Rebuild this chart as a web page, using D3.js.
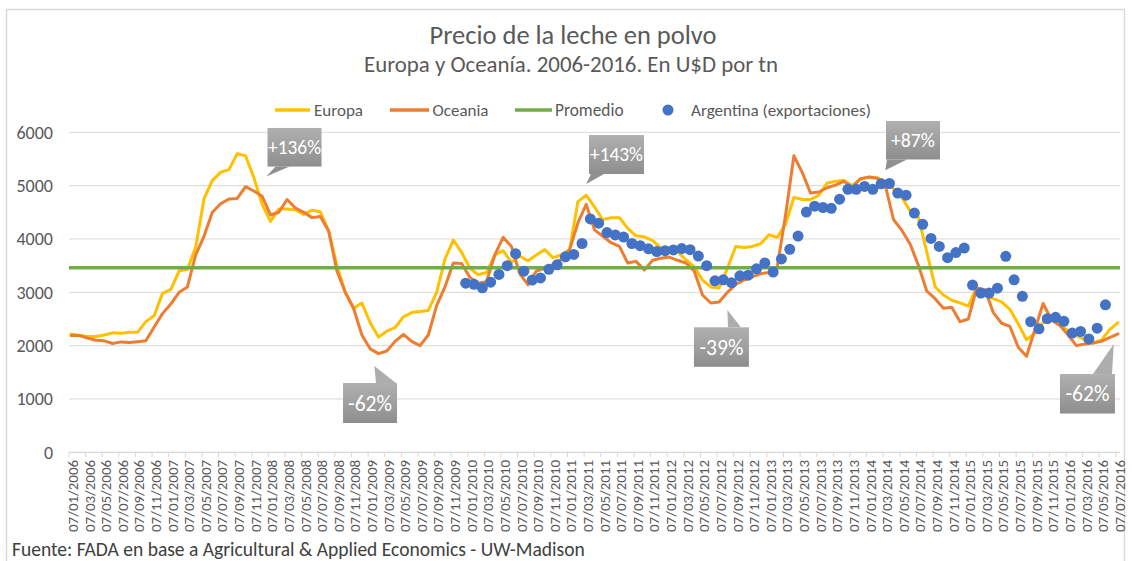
<!DOCTYPE html>
<html><head><meta charset="utf-8">
<script src="https://cdn.jsdelivr.net/npm/d3@7"></script>
<style>
body{margin:0;background:#fff}
svg{display:block}
text{font-family:Carlito, Calibri, Lato, "Open Sans", sans-serif}
</style>
</head><body>
<svg id="chart" width="1132" height="561"></svg>
<script>
// ---------------- DATA ----------------
const title = "Precio de la leche en polvo";
const subtitle = "Europa y Oceanía. 2006-2016. En U$D por tn";
const source = "Fuente: FADA en base a Agricultural & Applied Economics - UW-Madison";
const seriesNames = ["Europa", "Oceania", "Promedio", "Argentina (exportaciones)"];

const tickLabels = [
 "07/01/2006","07/03/2006","07/05/2006","07/07/2006","07/09/2006","07/11/2006",
 "07/01/2007","07/03/2007","07/05/2007","07/07/2007","07/09/2007","07/11/2007",
 "07/01/2008","07/03/2008","07/05/2008","07/07/2008","07/09/2008","07/11/2008",
 "07/01/2009","07/03/2009","07/05/2009","07/07/2009","07/09/2009","07/11/2009",
 "07/01/2010","07/03/2010","07/05/2010","07/07/2010","07/09/2010","07/11/2010",
 "07/01/2011","07/03/2011","07/05/2011","07/07/2011","07/09/2011","07/11/2011",
 "07/01/2012","07/03/2012","07/05/2012","07/07/2012","07/09/2012","07/11/2012",
 "07/01/2013","07/03/2013","07/05/2013","07/07/2013","07/09/2013","07/11/2013",
 "07/01/2014","07/03/2014","07/05/2014","07/07/2014","07/09/2014","07/11/2014",
 "07/01/2015","07/03/2015","07/05/2015","07/07/2015","07/09/2015","07/11/2015",
 "07/01/2016","07/03/2016","07/05/2016","07/07/2016"
];
const yTicks = [0, 1000, 2000, 3000, 4000, 5000, 6000];

// monthly values (7th of each month) from 07/01/2006 to 07/07/2016
const lineStart = "07/01/2006";
const europa = [
 2220,2190,2170,2170,2200,2240,2230,2250,2250,2450,
 2560,2980,3050,3400,3430,3850,4750,5100,5250,5300,
 5600,5560,5150,4650,4330,4560,4560,4550,4460,4540,
 4510,4150,3500,3000,2700,2800,2430,2160,2270,2340,
 2540,2620,2640,2660,3000,3620,3980,3750,3450,3330,
 3370,3700,3780,3560,3680,3590,3700,3800,3650,3700,
 3800,4700,4820,4600,4360,4400,4400,4200,4060,4040,
 3970,3830,3780,3760,3610,3480,3230,3100,3080,3450,
 3860,3840,3860,3910,4080,4030,4280,4780,4740,4740,
 4820,5050,5080,5100,5000,5120,5160,5150,5080,4940,
 4780,4520,4400,3750,3100,2950,2850,2800,2740,3100,
 2950,2880,2820,2680,2410,2110,2230,2430,2480,2390,
 2280,2190,2110,2050,2100,2300,2430
];
const oceania = [
 2190,2190,2140,2100,2090,2040,2070,2060,2075,2090,
 2350,2600,2780,3000,3100,3700,4050,4500,4660,4750,
 4760,4980,4900,4800,4450,4500,4740,4580,4500,4400,
 4420,4150,3400,3000,2700,2200,1940,1850,1900,2080,
 2210,2080,2000,2200,2750,3100,3550,3540,3280,3170,
 3200,3700,4030,3860,3350,3140,3400,3450,3520,3620,
 3800,4300,4650,4170,4050,3930,3860,3550,3580,3420,
 3600,3640,3660,3600,3550,3400,2950,2800,2820,3000,
 3150,3230,3290,3350,3370,3480,4450,5560,5250,4860,
 4880,4960,5010,5080,4970,5130,5160,5140,5000,4360,
 4160,3900,3500,3020,2880,2700,2720,2450,2500,3080,
 3050,2620,2420,2360,1970,1800,2300,2790,2480,2380,
 2200,2000,2030,2050,2080,2150,2220
];
const promedio = 3460;

// monthly export prices (21st of each month) from 21/12/2009 to 21/05/2016
const argentinaStart = "21/12/2009";
const argentina = [
 3170,3150,3085,3190,3335,3500,3725,3395,3230,3270,
 3430,3515,3665,3710,3915,4375,4295,4120,4075,4035,
 3915,3875,3815,3765,3780,3795,3820,3800,3680,3500,
 3215,3235,3180,3310,3320,3440,3550,3380,3625,3805,
 4055,4505,4615,4590,4575,4745,4930,4930,4985,4930,
 5035,5040,4860,4820,4485,4275,4010,3860,3650,3745,
 3830,3135,2985,2985,3078,3675,3235,2925,2450,2315,
 2505,2530,2455,2235,2265,2125,2328,2765
];

// callouts: label and the point (date, value) the tail points at
const calloutLabels = ["+136%", "-62%", "+143%", "-39%", "+87%", "-62%"];
const calloutDates  = ["21/12/2007", "21/01/2009", "07/03/2011", "07/08/2012", "07/03/2014", "21/06/2016"];
const calloutValues = [5170, 1620, 5030, 2670, 5290, 2030];

// ---------------- LAYOUT ----------------
const colors = {europa:"#FFC000", oceania:"#ED7D31", promedio:"#70AD47", argentina:"#4472C4",
                text:"#595959", grid:"#D9D9D9"};
// callout box geometry relative to tail tip: [dx, dy, w, h, tailStart, tailEnd]
const calloutBoxes = [
  [1.2, -48.6, 54, 38.6, 8, 22],
  [-31.3, 17.1, 54, 40, 33, 53],
  [2.8, -49, 55, 39, 2, 15],
  [-33.5, 17.4, 55, 39.5, 34, 47],
  [0.7, -49.2, 54, 38.5, 1, 21],
  [-53.8, 30, 55, 39.5, 33, 52]
];

const svg = d3.select("#chart");
const nCats = 253;
const x = d3.scaleLinear().domain([0, nCats]).range([69, 1120]);
const y = d3.scaleLinear().domain([0, 6000]).range([452.3, 132.3]);

function cat(s){ // dd/mm/yyyy -> semi-monthly category index
  const [d,m,yy] = s.split("/").map(Number);
  return (yy-2006)*24 + (m-1)*2 + (d >= 21 ? 1 : 0);
}
function fit(sel, w){
  const len = sel.node().getComputedTextLength();
  const fs = parseFloat(sel.attr("font-size"));
  sel.attr("font-size", (fs*w/len).toFixed(2));
  return parseFloat(sel.attr("font-size"));
}

// frame
svg.append("rect").attr("x",6.5).attr("y",9.5).attr("width",1118).attr("height",570)
  .attr("fill","none").attr("stroke","#D9D9D9").attr("stroke-width",1.5);

// titles
const t1 = svg.append("text").attr("x",573).attr("y",44).attr("text-anchor","middle")
  .attr("fill",colors.text).attr("font-size",21).text(title);
fit(t1, 287);
const t2 = svg.append("text").attr("x",571).attr("y",72).attr("text-anchor","middle")
  .attr("fill",colors.text).attr("font-size",17).text(subtitle);
fit(t2, 414);

// gridlines + y labels
const gy = svg.append("g");
gy.selectAll("line").data(yTicks).join("line")
  .attr("x1",69).attr("x2",1120).attr("y1",d=>y(d)).attr("y2",d=>y(d))
  .attr("stroke",colors.grid).attr("stroke-width",1);
const yl = gy.selectAll("text").data(yTicks).join("text")
  .attr("x",53).attr("y",d=>y(d)).attr("dy","0.35em").attr("text-anchor","end")
  .attr("fill",colors.text).attr("font-size",17).text(d=>d);
const yfs = fit(d3.select(yl.nodes()[6]), 36.5);
yl.attr("font-size", yfs);

// x axis
const gx = svg.append("g");
gx.selectAll("line.tk").data(tickLabels).join("line").attr("class","tk")
  .attr("x1",d=>x(cat(d))).attr("x2",d=>x(cat(d))).attr("y1",452.3).attr("y2",457)
  .attr("stroke",colors.grid);
gx.append("line").attr("x1",69).attr("x2",1120).attr("y1",452.3).attr("y2",452.3)
  .attr("stroke",colors.grid);
const xl = gx.selectAll("text").data(tickLabels).join("text")
  .attr("transform",d=>`translate(${x(cat(d))+3.7},460) rotate(-90)`)
  .attr("dy","0.35em").attr("text-anchor","end")
  .attr("fill",colors.text).attr("font-size",13).text(d=>d);
const xfs = fit(d3.select(xl.nodes()[0]), 72);
xl.attr("font-size", xfs);

// series
const c0 = cat(lineStart);
const line = d3.line().x((d,i)=>x(c0 + 2*i + 0.5)).y(d=>y(d));
svg.append("path").datum(europa).attr("d",line).attr("fill","none")
  .attr("stroke",colors.europa).attr("stroke-width",3).attr("stroke-linejoin","round").attr("stroke-linecap","round");
svg.append("path").datum(oceania).attr("d",line).attr("fill","none")
  .attr("stroke",colors.oceania).attr("stroke-width",3).attr("stroke-linejoin","round").attr("stroke-linecap","round");
svg.append("line").attr("x1",69).attr("x2",1120).attr("y1",y(promedio)).attr("y2",y(promedio))
  .attr("stroke",colors.promedio).attr("stroke-width",3.5);
const a0 = cat(argentinaStart);
svg.append("g").selectAll("circle").data(argentina).join("circle")
  .attr("cx",(d,i)=>x(a0 + 2*i + 0.5)).attr("cy",d=>y(d)).attr("r",5.5)
  .attr("fill",colors.argentina);

// legend
const lg = svg.append("g");
const legendSw = [[275,310],[390,429],[515,552]];
const legendTx = [[314,49],[432.5,56],[555,68.6],[691,180]];
const legendCol = [colors.europa, colors.oceania, colors.promedio];
legendSw.forEach((s,i)=>{
  lg.append("line").attr("x1",s[0]).attr("x2",s[1]).attr("y1",110).attr("y2",110)
    .attr("stroke",legendCol[i]).attr("stroke-width",3.5);
});
lg.append("circle").attr("cx",668).attr("cy",110).attr("r",5.5).attr("fill",colors.argentina);
seriesNames.forEach((n,i)=>{
  const t = lg.append("text").attr("x",legendTx[i][0]).attr("y",110).attr("dy","0.35em")
    .attr("fill",colors.text).attr("font-size",15).text(n);
  fit(t, legendTx[i][1]);
});

// callouts
const defs = svg.append("defs");
const grad = defs.append("linearGradient").attr("id","cg").attr("x1",0).attr("y1",0).attr("x2",0).attr("y2",1);
grad.append("stop").attr("offset","0%").attr("stop-color","#B0B0B0");
grad.append("stop").attr("offset","100%").attr("stop-color","#8E8E8E");
calloutLabels.forEach((lab,i)=>{
  const tx = x(cat(calloutDates[i]) + 0.5), ty = y(calloutValues[i]);
  const [dx,dy,w,h,t0,t1b] = calloutBoxes[i];
  const bx = tx+dx, by = ty+dy;
  const g = svg.append("g");
  const edgeY = dy < 0 ? by + h : by;
  g.append("path").attr("d",`M${bx+t0},${edgeY} L${bx+t1b},${edgeY} L${tx},${ty} Z`)
    .attr("fill", dy < 0 ? "#909090" : "#ADADAD");
  g.append("rect").attr("x",bx).attr("y",by).attr("width",w).attr("height",h).attr("fill","url(#cg)");
  const t = g.append("text").attr("x",bx+w/2).attr("y",by+h/2).attr("dy","0.35em")
    .attr("text-anchor","middle").attr("fill","#FFFFFF").attr("font-size",18).text(lab);
  fit(t, lab.length > 4 ? 53 : 44);
});

// source
const src = svg.append("text").attr("x",12).attr("y",556).attr("fill","#404040")
  .attr("font-size",16).text(source);
fit(src, 573);
</script>
</body></html>
